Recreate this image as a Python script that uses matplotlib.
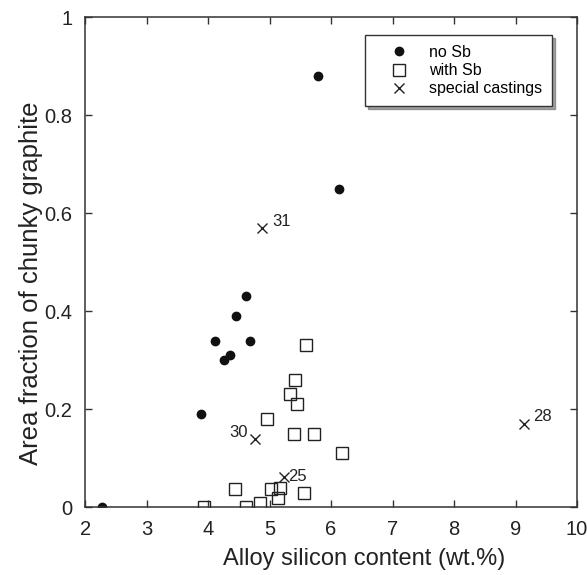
import matplotlib
matplotlib.use("Agg")
import matplotlib.pyplot as plt

plt.rcParams['font.family'] = ['Liberation Sans', 'DejaVu Sans']

# Castings without antimony
no_sb_si = [2.28, 3.89, 4.11, 4.26, 4.35, 4.46, 4.62, 4.68, 5.78, 6.13]
no_sb_cg = [0.00, 0.19, 0.34, 0.30, 0.31, 0.39, 0.43, 0.34, 0.88, 0.65]

# Castings with antimony
sb_si = [3.94, 4.44, 4.61, 4.84, 4.95, 5.02, 5.13, 5.17, 5.34, 5.39, 5.42,
         5.44, 5.56, 5.59, 5.73, 6.18]
sb_cg = [0.00, 0.038, 0.00, 0.009, 0.18, 0.037, 0.018, 0.040, 0.23, 0.15, 0.26,
         0.21, 0.028, 0.33, 0.15, 0.11]

# Special castings with their identifiers
special_si = [4.88, 4.76, 5.23, 9.13]
special_cg = [0.57, 0.14, 0.062, 0.169]
special_ids = ['31', '30', '25', '28']

fig = plt.figure(figsize=(5.87, 5.75), dpi=100)
ax = fig.add_axes([0.145, 0.118, 0.838, 0.852])

ax.plot(no_sb_si, no_sb_cg, 'o', color='#111111', markersize=6.0, label='no Sb')
ax.plot(sb_si, sb_cg, 's', markerfacecolor='none', markeredgecolor='#222222',
        markeredgewidth=1.0, markersize=8.8, label='with Sb')
ax.plot(special_si, special_cg, 'x', color='#222222', markersize=6.5,
        markeredgewidth=1.0, label='special castings')

# Identifier placement relative to each cross (offset in points, alignment)
label_pos = {'31': ((7, -1), 'left', 'bottom'),
             '30': ((-5, -1), 'right', 'bottom'),
             '25': ((3, 0), 'left', 'center'),
             '28': ((7, 0), 'left', 'bottom')}
for x, y, t in zip(special_si, special_cg, special_ids):
    (dx, dy), ha, va = label_pos[t]
    ax.annotate(t, (x, y), xytext=(dx, dy), textcoords='offset points',
                fontsize=12, color='#222222', ha=ha, va=va)

ax.set_xlim(2, 10)
ax.set_ylim(0, 1)
ax.set_xticks(range(2, 11))
ax.set_yticks([0, 0.2, 0.4, 0.6, 0.8, 1])
ax.set_yticklabels(['0', '0.2', '0.4', '0.6', '0.8', '1'])
ax.tick_params(direction='in', top=True, right=True, length=5, width=1,
               colors='#333333', labelsize=14.5, labelcolor='#222222')
ax.tick_params(axis='x', pad=9)
ax.tick_params(axis='y', pad=9)
for s in ax.spines.values():
    s.set_color('#333333')
    s.set_linewidth(1.1)

ax.set_xlabel('Alloy silicon content (wt.%)', fontsize=17, color='#222222')
ax.set_ylabel('Area fraction of chunky graphite', fontsize=18.5, color='#222222')
ax.xaxis.set_label_coords(0.567, -0.083)
ax.yaxis.set_label_coords(-0.085, 0.457)

leg = ax.legend(loc='upper right', bbox_to_anchor=(0.949, 0.963), fontsize=11.5,
                frameon=True, fancybox=False, shadow=True, edgecolor='#333333',
                borderpad=0.6, handlelength=3.0, handletextpad=0.4,
                labelspacing=0.2, borderaxespad=0.0)
leg.get_frame().set_linewidth(1.0)

fig.savefig('out.png', dpi=100)
